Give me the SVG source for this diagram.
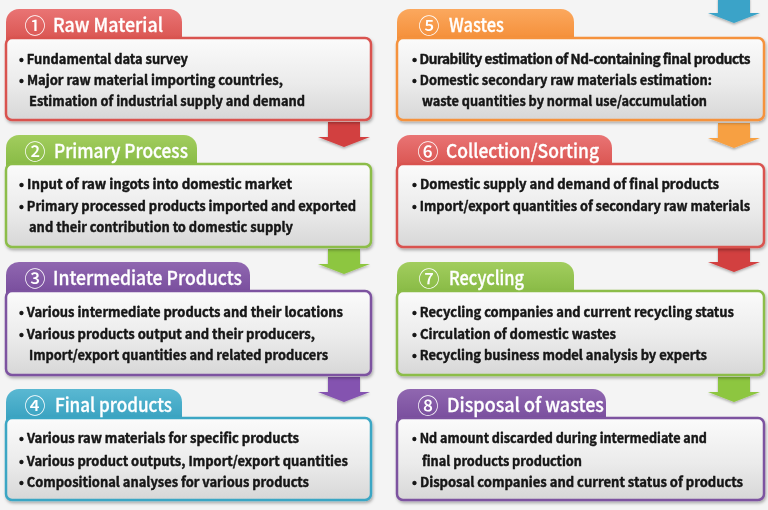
<svg xmlns="http://www.w3.org/2000/svg" width="768" height="510" viewBox="0 0 768 510">
<defs>
<linearGradient id="bodyG" x1="0" y1="0" x2="0" y2="1"><stop offset="0" stop-color="#fbfbfb"/><stop offset="0.55" stop-color="#ebebeb"/><stop offset="1" stop-color="#d7d7d7"/></linearGradient>
<linearGradient id="gRed" x1="0" y1="0" x2="0" y2="1"><stop offset="0" stop-color="#e97474"/><stop offset="1" stop-color="#d9534f"/></linearGradient>
<linearGradient id="gGreen" x1="0" y1="0" x2="0" y2="1"><stop offset="0" stop-color="#a2cd5e"/><stop offset="1" stop-color="#86b943"/></linearGradient>
<linearGradient id="gPurple" x1="0" y1="0" x2="0" y2="1"><stop offset="0" stop-color="#9067b0"/><stop offset="1" stop-color="#774c9c"/></linearGradient>
<linearGradient id="gBlue" x1="0" y1="0" x2="0" y2="1"><stop offset="0" stop-color="#5ab8d2"/><stop offset="1" stop-color="#36a0bf"/></linearGradient>
<linearGradient id="gOrange" x1="0" y1="0" x2="0" y2="1"><stop offset="0" stop-color="#fba85e"/><stop offset="1" stop-color="#f48d36"/></linearGradient>
<filter id="sh" x="-5%" y="-10%" width="110%" height="130%"><feDropShadow dx="1" dy="2" stdDeviation="1.5" flood-color="#000" flood-opacity="0.3"/></filter>
<filter id="ash" x="-20%" y="-20%" width="140%" height="160%"><feDropShadow dx="0" dy="1.5" stdDeviation="1.2" flood-color="#000" flood-opacity="0.3"/></filter>
<path id="arrow" d="M-16,0 H16 V15 H26 L0,25 L-26,15 H-16 Z"/>
</defs>
<style>
.body{fill:url(#bodyG);stroke-width:2.5;filter:url(#sh)}
.ttl{font-family:"Noto Sans CJK KR","Liberation Sans",sans-serif;font-size:19px;font-weight:500;fill:#fff;stroke:#fff;stroke-width:0.3}
.num{font-family:"Noto Sans CJK KR","DejaVu Sans",sans-serif;font-size:21px;font-weight:500;fill:#fff}
.ln{font-family:"Noto Sans CJK KR","Liberation Sans",sans-serif;font-size:13.5px;font-weight:bold;fill:#161616;stroke:#161616;stroke-width:0.45;stroke-linejoin:round}
.red{stroke:#d9534f}.green{stroke:#8cbd48}.purple{stroke:#7d52a0}.blue{stroke:#3aa6c4}.orange{stroke:#f5923e}
</style>
<rect width="768" height="510" fill="#f4f4f4"/>

<g id="connectors" filter="url(#ash)">
<use href="#arrow" x="344" y="122" fill="#d23f3f"/>
<use href="#arrow" x="344" y="249" fill="#8dc63f"/>
<use href="#arrow" x="344" y="377" fill="#8452b0"/>
<use href="#arrow" x="734" y="-2" fill="#3aa3c8"/>
<use href="#arrow" x="734" y="123" fill="#f7a043"/>
<use href="#arrow" x="734" y="247" fill="#d23f3f"/>
<use href="#arrow" x="734" y="377" fill="#8dc63f"/>
</g>

<g id="node1">
<path d="M6,42 V22 A13,13 0 0 1 19,9 H169 A13,13 0 0 1 182,22 V42 Z" fill="url(#gRed)"/>
<rect class="body red" x="6" y="38" width="365" height="82" rx="6"/>
<text class="num" x="35" y="33" text-anchor="middle">①</text>
<text class="ttl" x="53" y="32" textLength="110" lengthAdjust="spacingAndGlyphs">Raw Material</text>
<text class="ln" x="19" y="64" textLength="169" lengthAdjust="spacingAndGlyphs">• Fundamental data survey</text>
<text class="ln" x="19" y="85" textLength="264" lengthAdjust="spacingAndGlyphs">• Major raw material importing countries,</text>
<text class="ln" x="29" y="106" textLength="276" lengthAdjust="spacingAndGlyphs">Estimation of industrial supply and demand</text>
</g>

<g id="node2">
<path d="M6,168 V148 A13,13 0 0 1 19,135 H184 A13,13 0 0 1 197,148 V168 Z" fill="url(#gGreen)"/>
<rect class="body green" x="6" y="164" width="365" height="83" rx="6"/>
<text class="num" x="35" y="159" text-anchor="middle">②</text>
<text class="ttl" x="54" y="158" textLength="134" lengthAdjust="spacingAndGlyphs">Primary Process</text>
<text class="ln" x="19" y="189" textLength="273" lengthAdjust="spacingAndGlyphs">• Input of raw ingots into domestic market</text>
<text class="ln" x="19" y="211" textLength="337" lengthAdjust="spacingAndGlyphs">• Primary processed products imported and exported</text>
<text class="ln" x="29" y="232" textLength="264" lengthAdjust="spacingAndGlyphs">and their contribution to domestic supply</text>
</g>

<g id="node3">
<path d="M6,295 V275 A13,13 0 0 1 19,262 H237 A13,13 0 0 1 250,275 V295 Z" fill="url(#gPurple)"/>
<rect class="body purple" x="6" y="291" width="365" height="84" rx="6"/>
<text class="num" x="35" y="286" text-anchor="middle">③</text>
<text class="ttl" x="53" y="285" textLength="189" lengthAdjust="spacingAndGlyphs">Intermediate Products</text>
<text class="ln" x="19" y="317" textLength="324" lengthAdjust="spacingAndGlyphs">• Various intermediate products and their locations</text>
<text class="ln" x="19" y="339" textLength="296" lengthAdjust="spacingAndGlyphs">• Various products output and their producers,</text>
<text class="ln" x="29" y="360" textLength="299" lengthAdjust="spacingAndGlyphs">Import/export quantities and related producers</text>
</g>

<g id="node4">
<path d="M6,422 V402 A13,13 0 0 1 19,389 H169 A13,13 0 0 1 182,402 V422 Z" fill="url(#gBlue)"/>
<rect class="body blue" x="6" y="418" width="365" height="82" rx="6"/>
<text class="num" x="35" y="413" text-anchor="middle">④</text>
<text class="ttl" x="55" y="412" textLength="117" lengthAdjust="spacingAndGlyphs">Final products</text>
<text class="ln" x="19" y="443" textLength="280" lengthAdjust="spacingAndGlyphs">• Various raw materials for specific products</text>
<text class="ln" x="19" y="466" textLength="329" lengthAdjust="spacingAndGlyphs">• Various product outputs, Import/export quantities</text>
<text class="ln" x="19" y="487" textLength="290" lengthAdjust="spacingAndGlyphs">• Compositional analyses for various products</text>
</g>

<g id="node5">
<path d="M397,42 V22 A13,13 0 0 1 410,9 H561 A13,13 0 0 1 574,22 V42 Z" fill="url(#gOrange)"/>
<rect class="body orange" x="397" y="38" width="367" height="82" rx="6"/>
<text class="num" x="429" y="33" text-anchor="middle">⑤</text>
<text class="ttl" x="449" y="32" textLength="55" lengthAdjust="spacingAndGlyphs">Wastes</text>
<text class="ln" x="412" y="64" letter-spacing="-0.4" textLength="338" lengthAdjust="spacingAndGlyphs">• Durability estimation of Nd-containing final products</text>
<text class="ln" x="412" y="85" textLength="300" lengthAdjust="spacingAndGlyphs">• Domestic secondary raw materials estimation:</text>
<text class="ln" x="422" y="106" textLength="285" lengthAdjust="spacingAndGlyphs">waste quantities by normal use/accumulation</text>
</g>

<g id="node6">
<path d="M397,168 V148 A13,13 0 0 1 410,135 H599 A13,13 0 0 1 612,148 V168 Z" fill="url(#gRed)"/>
<rect class="body red" x="397" y="164" width="367" height="83" rx="6"/>
<text class="num" x="428" y="159" text-anchor="middle">⑥</text>
<text class="ttl" x="446" y="158" textLength="153" lengthAdjust="spacingAndGlyphs">Collection/Sorting</text>
<text class="ln" x="412" y="189" textLength="307" lengthAdjust="spacingAndGlyphs">• Domestic supply and demand of final products</text>
<text class="ln" x="412" y="211" textLength="338" lengthAdjust="spacingAndGlyphs">• Import/export quantities of secondary raw materials</text>
</g>

<g id="node7">
<path d="M397,295 V275 A13,13 0 0 1 410,262 H561 A13,13 0 0 1 574,275 V295 Z" fill="url(#gGreen)"/>
<rect class="body green" x="397" y="291" width="367" height="84" rx="6"/>
<text class="num" x="429" y="286" text-anchor="middle">⑦</text>
<text class="ttl" x="449" y="285" textLength="75" lengthAdjust="spacingAndGlyphs">Recycling</text>
<text class="ln" x="412" y="317" textLength="322" lengthAdjust="spacingAndGlyphs">• Recycling companies and current recycling status</text>
<text class="ln" x="412" y="339" textLength="204" lengthAdjust="spacingAndGlyphs">• Circulation of domestic wastes</text>
<text class="ln" x="412" y="360" textLength="295" lengthAdjust="spacingAndGlyphs">• Recycling business model analysis by experts</text>
</g>

<g id="node8">
<path d="M397,422 V402 A13,13 0 0 1 410,389 H593 A13,13 0 0 1 606,402 V422 Z" fill="url(#gPurple)"/>
<rect class="body purple" x="397" y="418" width="367" height="82" rx="6"/>
<text class="num" x="428" y="413" text-anchor="middle">⑧</text>
<text class="ttl" x="447" y="412" textLength="157" lengthAdjust="spacingAndGlyphs">Disposal of wastes</text>
<text class="ln" x="412" y="443" textLength="295" lengthAdjust="spacingAndGlyphs">• Nd amount discarded during intermediate and</text>
<text class="ln" x="422" y="466" textLength="160" lengthAdjust="spacingAndGlyphs">final products production</text>
<text class="ln" x="412" y="487" textLength="331" lengthAdjust="spacingAndGlyphs">• Disposal companies and current status of products</text>
</g>
</svg>
